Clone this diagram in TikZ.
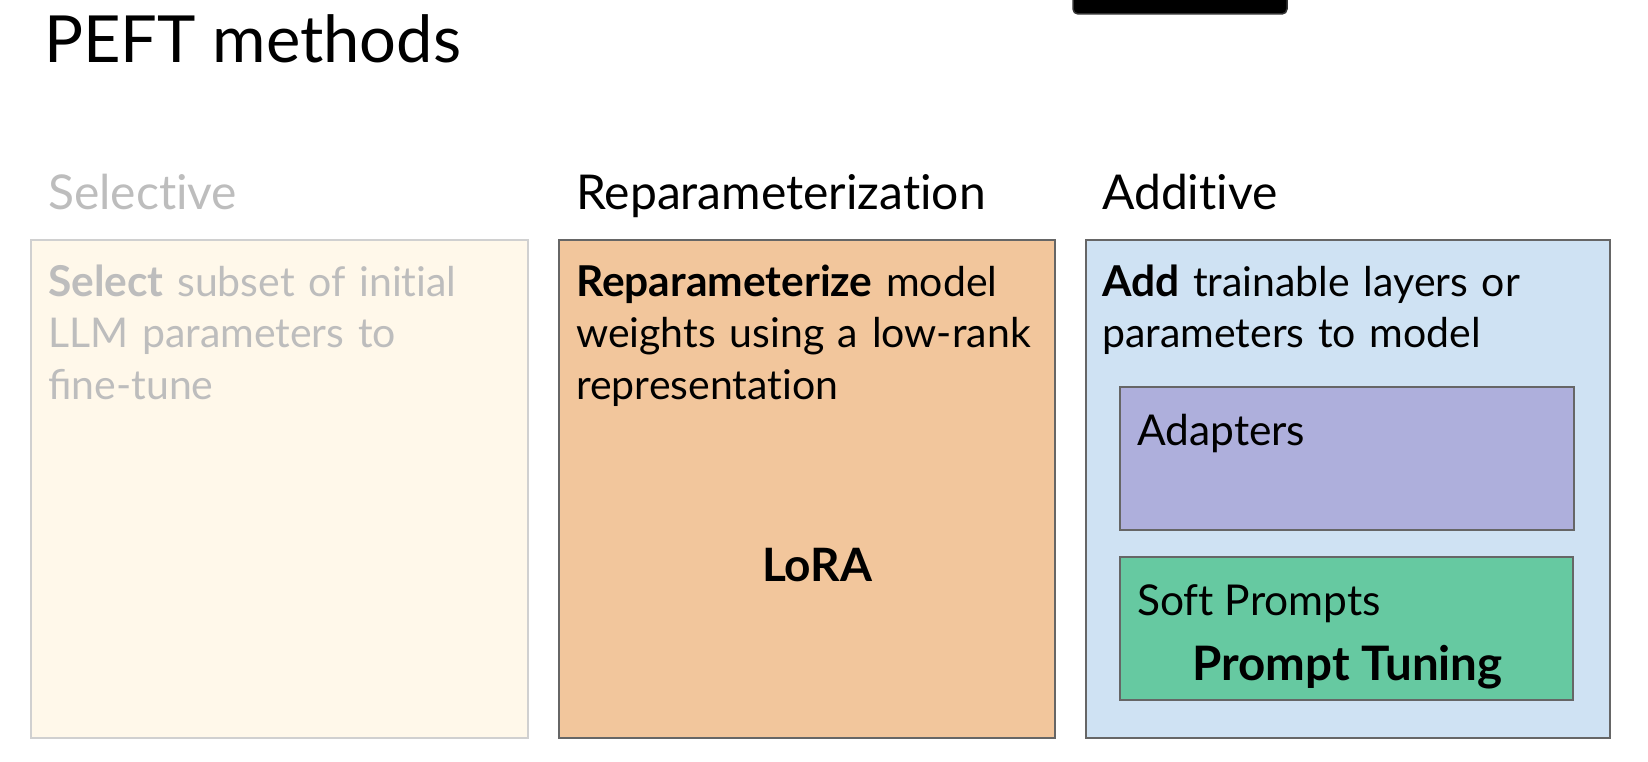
\documentclass[tikz,border=0pt]{standalone}
\usepackage{fontspec}
\setmainfont{Lato}[Ligatures=NoCommon]
\definecolor{selfill}{HTML}{FFF8EA}
\definecolor{selline}{HTML}{D0D0D0}
\definecolor{seltext}{HTML}{BDBDBD}
\definecolor{repfill}{HTML}{F2C69C}
\definecolor{addfill}{HTML}{CFE2F3}
\definecolor{adpfill}{HTML}{AEAFDC}
\definecolor{softfill}{HTML}{66C9A1}
\definecolor{boxline}{HTML}{666666}
\newcommand{\keyword}[1]{{\fontsize{42.5}{51.5}\selectfont\bfseries #1}}
\begin{document}
\begin{tikzpicture}[x=1pt,y=-1pt,
  panel/.style={draw=boxline,line width=1.5pt,anchor=north west,inner sep=0pt},
  colhead/.style={anchor=base west,inner sep=0pt,font=\fontsize{48}{52}\selectfont},
  label/.style={anchor=base west,inner sep=0pt,font=\fontsize{42.5}{51}\selectfont},
  body/.style={anchor=base west,inner sep=0pt,align=left,text width=480pt,font=\fontsize{41}{51.5}\selectfont},
  methname/.style={anchor=base,inner sep=0pt,font=\fontsize{46}{52}\selectfont\bfseries}]
\useasboundingbox (0,0) rectangle (1648,762);
% dark bar at the top edge
\path[fill=black,draw=black!80,line width=1.5pt,rounded corners=5pt] (1073,-20) rectangle (1287,14);
\node[anchor=base west,inner sep=0pt,font=\fontsize{65}{70}\selectfont] (title) at (44,63) {PEFT methods};
% column headings
\node[colhead,text=seltext] (selhead) at (48,209) {Selective};
\node[colhead] (rephead) at (576,209) {Reparameterization};
\node[colhead] (addhead) at (1102,209) {Additive};
% columns
\node[panel,draw=selline,fill=selfill,minimum width=497pt,minimum height=498pt] (selbox) at (30,239) {};
\node[panel,fill=repfill,minimum width=496pt,minimum height=498pt] (repbox) at (558,239) {};
\node[panel,fill=addfill,minimum width=524pt,minimum height=498pt] (addbox) at (1085,239) {};
\node[panel,fill=adpfill,minimum width=454pt,minimum height=143pt] (adpbox) at (1119,386) {};
\node[panel,fill=softfill,minimum width=453pt,minimum height=143pt] (softbox) at (1119,556) {};
% texts
\node[body,text=seltext] (seltext) at (48,296) {\keyword{Select} subset of initial\\LLM parameters to\\{\addfontfeatures{Ligatures=Common}fi}ne-tune};
\node[body] (reptext) at (576,296) {\keyword{Reparameterize} model\\weights using a low-rank\\representation};
\node[body] (addtext) at (1102,296) {\keyword{Add} trainable layers or\\parameters to model};
\node[methname] (lora) at (817,581) {LoRA};
\node[label] (adptext) at (1137,445) {Adapters};
\node[label] (softtext) at (1137,615) {Soft Prompts};
\node[methname,anchor=base west,font=\fontsize{47.5}{52}\selectfont\bfseries] (prompt) at (1192,680) {Prompt Tuning};
\end{tikzpicture}
\end{document}
